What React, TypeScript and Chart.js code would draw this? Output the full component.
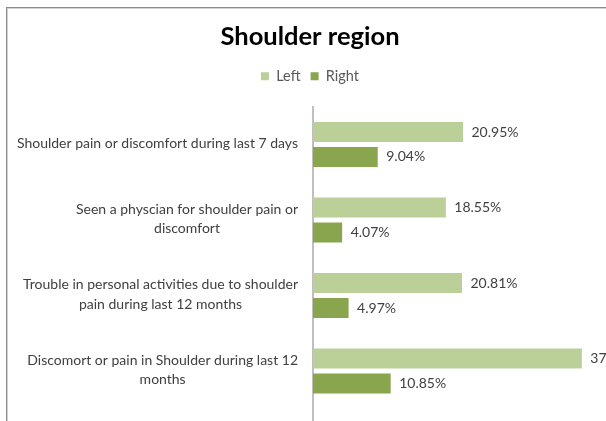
import React, { useEffect, useRef } from 'react';
import { Chart, registerables } from 'chart.js';

Chart.register(...registerables);

const chartTitle = 'Shoulder region';
const categories: string[][] = [
  ['Shoulder pain or discomfort during last 7 days'],
  ['Seen a physcian for shoulder pain or', 'discomfort'],
  ['Trouble in personal activities due to shoulder', 'pain during last 12 months'],
  ['Discomort or pain in Shoulder during last 12', 'months'],
];
const seriesNames = ['Left', 'Right'];
const leftValues = [20.95, 18.55, 20.81, 37.55];
const rightValues = [9.04, 4.07, 4.97, 10.85];
const seriesColors = ['#BBCF99', '#89A54E'];
const xMax = 40;

const FONT = 'Lato';
const LABEL_SIZE = 14;

const yLabelPlugin = {
  id: 'yLabelPlugin',
  afterDraw(chart: any) {
    const ctx = chart.ctx;
    const scale = chart.scales.y;
    ctx.save();
    ctx.font = `${LABEL_SIZE}px ${FONT}`;
    ctx.fillStyle = '#404040';
    ctx.textAlign = 'center';
    ctx.textBaseline = 'middle';
    const lh = 19.5;
    categories.forEach((lines, i) => {
      const y = scale.getPixelForTick(i);
      const widest = Math.max(...lines.map((l) => ctx.measureText(l).width));
      const cx = chart.chartArea.left - 15 - widest / 2;
      lines.forEach((line, j) => {
        ctx.fillText(line, cx, y - 1 + (j - (lines.length - 1) / 2) * lh);
      });
    });
    ctx.restore();
  },
};

const dataLabelPlugin = {
  id: 'dataLabelPlugin',
  afterDatasetsDraw(chart: any) {
    const ctx = chart.ctx;
    ctx.save();
    ctx.font = `${LABEL_SIZE}px ${FONT}`;
    ctx.fillStyle = '#404040';
    ctx.textAlign = 'left';
    ctx.textBaseline = 'middle';
    chart.data.datasets.forEach((ds: any, di: number) => {
      const meta = chart.getDatasetMeta(di);
      meta.data.forEach((el: any, i: number) => {
        const v = ds.data[i];
        if (v == null) return;
        ctx.fillText(v.toFixed(2) + '%', el.x + 8.5, el.y);
      });
    });
    ctx.restore();
  },
};

export default function App() {
  const ref = useRef<HTMLCanvasElement | null>(null);

  useEffect(() => {
    if (!ref.current) return;
    const chart = new Chart(ref.current, {
      type: 'bar',
      data: {
        labels: [...categories.map((l) => l.join(' ')), ''],
        datasets: [
          {
            label: seriesNames[0],
            data: leftValues,
            backgroundColor: seriesColors[0],
            borderWidth: 0,
            categoryPercentage: 0.661,
            barPercentage: 0.8,
          },
          {
            label: seriesNames[1],
            data: rightValues,
            backgroundColor: seriesColors[1],
            borderWidth: 0,
            categoryPercentage: 0.661,
            barPercentage: 0.8,
          },
        ],
      },
      options: {
        responsive: false,
        animation: false,
        indexAxis: 'y',
        layout: { padding: { left: 13.6, right: 13.6, top: 0, bottom: 13.6 } },
        plugins: {
          title: {
            display: true,
            text: chartTitle,
            color: '#000000',
            font: { family: FONT, size: 25.5, weight: 'bold', lineHeight: 1.2 },
            padding: { top: 13.7, bottom: 6.75 },
          },
          legend: {
            display: true,
            position: 'top',
            labels: {
              boxWidth: 8,
              boxHeight: 8,
              padding: 10,
              color: '#595959',
              font: { family: FONT, size: 14.5 },
            },
          },
          tooltip: { enabled: false },
        },
        scales: {
          x: {
            position: 'top',
            min: 0,
            max: xMax,
            grid: { display: false },
            border: { display: false },
            ticks: { display: false },
            afterFit: (s: any) => {
              s.height = 13.15;
            },
          },
          y: {
            grid: { display: false },
            border: { display: true, color: '#bfbfbf', width: 2 },
            ticks: { display: false },
            afterFit: (s: any) => {
              s.width = 292.4;
            },
          },
        },
      } as any,
      plugins: [yLabelPlugin, dataLabelPlugin],
    });
    return () => chart.destroy();
  }, []);

  return (
    <div
      style={{
        position: 'absolute',
        left: 0,
        top: 0,
        width: 606,
        height: 421,
        overflow: 'hidden',
        background: '#ffffff',
      }}
    >
      <div
        style={{
          position: 'absolute',
          left: 6,
          top: 7,
          width: 700,
          height: 520,
          border: '1px solid #8c8c8c',
          boxShadow: 'inset 0 0 0 1px #d4d4d4',
          boxSizing: 'border-box',
          background: '#ffffff',
        }}
      >
        <canvas ref={ref} width={606} height={490} style={{ display: 'block', width: 606, height: 490 }} />
      </div>
    </div>
  );
}
